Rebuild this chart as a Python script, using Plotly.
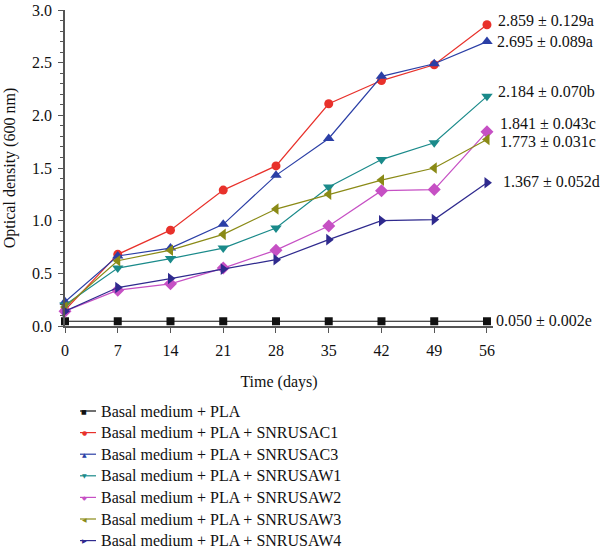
import plotly.graph_objects as go

days = [0, 7, 14, 21, 28, 35, 42, 49, 56]

names = [
    "Basal medium + PLA",
    "Basal medium + PLA + SNRUSAC1",
    "Basal medium + PLA + SNRUSAC3",
    "Basal medium + PLA + SNRUSAW1",
    "Basal medium + PLA + SNRUSAW2",
    "Basal medium + PLA + SNRUSAW3",
    "Basal medium + PLA + SNRUSAW4",
]

pla = [0.045, 0.045, 0.045, 0.045, 0.045, 0.045, 0.045, 0.045, 0.045]
sac1 = [0.15, 0.68, 0.91, 1.29, 1.52, 2.11, 2.33, 2.48, 2.86]
sac3 = [0.23, 0.665, 0.74, 0.965, 1.43, 1.78, 2.37, 2.49, 2.70]
saw1 = [0.20, 0.55, 0.64, 0.74, 0.93, 1.32, 1.58, 1.74, 2.18]
saw2 = [0.14, 0.34, 0.40, 0.55, 0.72, 0.95, 1.285, 1.295, 1.845]
saw3 = [0.18, 0.62, 0.72, 0.87, 1.11, 1.25, 1.385, 1.50, 1.77]
saw4 = [0.14, 0.365, 0.45, 0.54, 0.63, 0.82, 1.00, 1.01, 1.36]

labels = [
    "0.050 ± 0.002e",
    "2.859 ± 0.129a",
    "2.695 ± 0.089a",
    "2.184 ± 0.070b",
    "1.841 ± 0.043c",
    "1.773 ± 0.031c",
    "1.367 ± 0.052d",
]
label_y = [0.057, 2.90, 2.70, 2.225, 1.925, 1.75, 1.37]

series = [pla, sac1, sac3, saw1, saw2, saw3, saw4]
colors = ["#111111", "#e8312b", "#2b3fa6", "#1a8a8a", "#c650c4", "#8a8a16", "#2f2a8e"]
symbols = ["square", "circle", "triangle-up", "triangle-down", "diamond", "triangle-left", "triangle-right"]
legend_glyphs = ["■", "●", "▲", "▼", "◆", "◀", "▶"]
sizes = [8, 9, 10, 10, 10, 10, 10]
label_shift = [7, 9, 8, 9, 11, 11, 14]

FONT = "Liberation Serif"
FS = 16

# layout geometry (pixels)
W, H = 600, 553
ML, MR, MT, MB = 65, 107, 10, 227
PW = W - ML - MR
PH = H - MT - MB


def px_to_paper_x(px):
    return (px - ML) / PW


def py_to_paper_y(py):
    return (H - MB - py) / PH


fig = go.Figure()
for n, s, c, sym, sz in zip(names, series, colors, symbols, sizes):
    fig.add_trace(go.Scatter(
        x=days, y=s, name=n, mode="lines+markers",
        line=dict(color=c, width=1.2),
        marker=dict(color=c, symbol=sym, size=sz),
        cliponaxis=False, showlegend=False,
    ))

for t, y, sh in zip(labels, label_y, label_shift):
    fig.add_annotation(x=56, y=y, xref="x", yref="y", text=t, showarrow=False,
                       xanchor="left", yanchor="middle", xshift=sh,
                       font=dict(family=FONT, size=FS, color="#111"))

# manual legend (rows ~21.7 px apart, as in the reference)
row0, gap = 411, 21.6
for i, (n, c, g) in enumerate(zip(names, colors, legend_glyphs)):
    py = row0 + i * gap
    yp = py_to_paper_y(py)
    fig.add_shape(type="line", xref="paper", yref="paper",
                  x0=px_to_paper_x(80), x1=px_to_paper_x(96), y0=yp, y1=yp,
                  line=dict(color=c, width=1.2))
    fig.add_annotation(x=px_to_paper_x(84), y=yp, xref="paper", yref="paper",
                       text=g, showarrow=False, xanchor="center", yanchor="middle",
                       font=dict(family="DejaVu Sans", size=6, color=c))
    fig.add_annotation(x=px_to_paper_x(99), y=yp, xref="paper", yref="paper",
                       text=n, showarrow=False, xanchor="left", yanchor="middle",
                       font=dict(family=FONT, size=FS, color="#111"))

fig.update_layout(
    width=W, height=H,
    margin=dict(l=ML, r=MR, t=MT, b=MB),
    paper_bgcolor="white", plot_bgcolor="white",
    font=dict(family=FONT, size=FS, color="#111"),
    showlegend=False,
    xaxis=dict(
        range=[0, 56.8], tickmode="array", tickvals=days,
        ticks="outside", ticklen=5, tickcolor="#555", tickwidth=1,
        ticklabelstandoff=4, automargin=False,
        showline=True, linecolor="#555", linewidth=1.5,
        showgrid=False, zeroline=False,
        title=dict(text="Time (days)", standoff=18, font=dict(family=FONT, size=FS)),
        tickfont=dict(family=FONT, size=FS),
    ),
    yaxis=dict(
        range=[0, 3.0], tickmode="linear", tick0=0, dtick=0.5, tickformat=".1f",
        ticks="outside", ticklen=5, tickcolor="#555", tickwidth=1,
        ticklabelstandoff=3, automargin=False,
        minor=dict(dtick=0.1, ticks="outside", ticklen=3, tickcolor="#555", showgrid=False),
        showline=True, linecolor="#555", linewidth=1.5,
        showgrid=False, zeroline=False,
        title=dict(text="Optical density (600 nm)", standoff=12, font=dict(family=FONT, size=FS)),
        tickfont=dict(family=FONT, size=FS),
    ),
)

fig.write_html("out.html")
